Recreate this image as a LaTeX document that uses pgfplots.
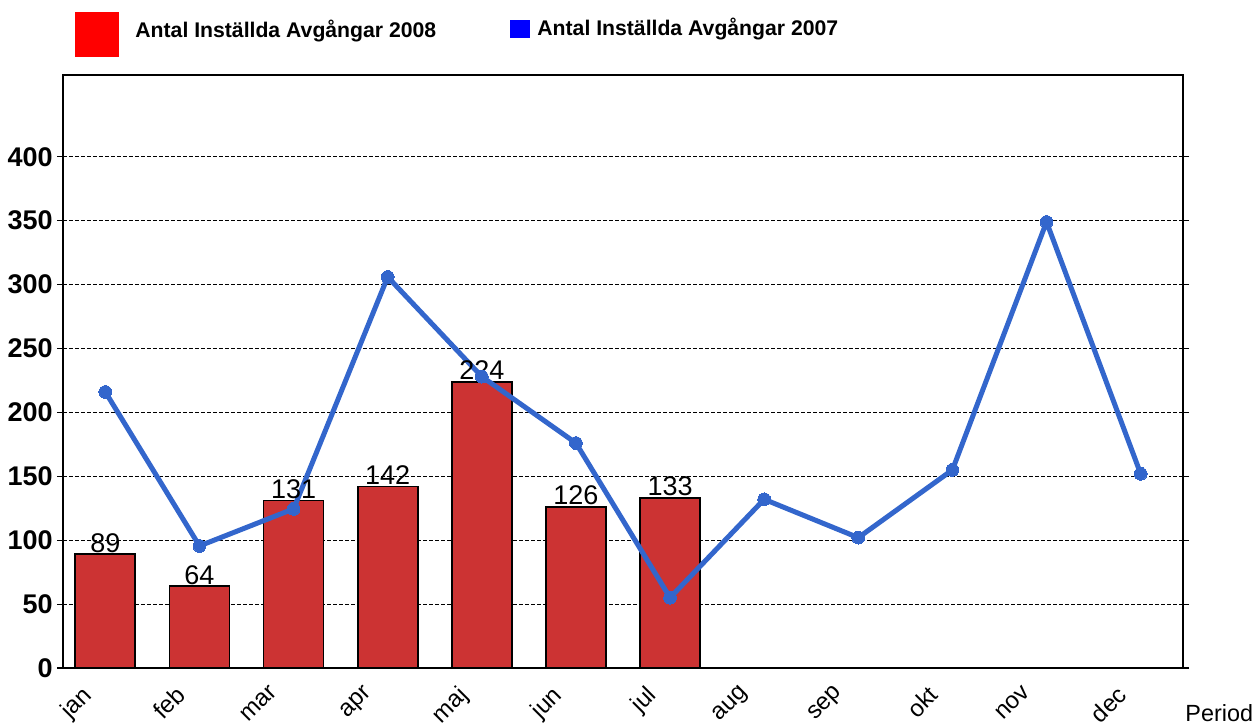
\documentclass[border=0pt]{standalone}
\usepackage{pgfplots}
\pgfplotsset{compat=1.18}
\usepackage{fontspec}
\setmainfont{Liberation Sans}
\definecolor{barred}{HTML}{CC3333}
\definecolor{lineblue}{HTML}{3366CC}
\begin{document}
\begin{tikzpicture}
\useasboundingbox (-31.5pt,-28.5pt) rectangle (596pt,334pt);
\begin{axis}[
  at={(0pt,0pt)}, anchor=south west,
  scale only axis,
  width=560pt, height=296.5pt,
  xmin=-0.45, xmax=11.45,
  ymin=0, ymax=464,
  ytick={0,50,...,400},
  xtick={0,...,11},
  xticklabels={jan,feb,mar,apr,maj,jun,jul,aug,sep,okt,nov,dec},
  x tick label style={xshift=-12.5pt, yshift=-3.5pt, rotate=45, anchor=north east, font=\fontsize{12}{13}\selectfont, inner sep=1pt},
  y tick label style={font=\fontsize{13.5}{15}\selectfont\bfseries, inner sep=2pt},
  /pgf/number format/assume math mode=true,
  ymajorgrids,
  major grid style={black, dash pattern=on 2pt off 1pt, line width=0.5pt},
  major x tick style={draw=none},
  ytick style={black, line width=0.6pt},
  tick align=outside,
  major tick length=3pt,
  axis line style={black, line width=0.9pt},
  clip=false,
]
\addplot[ybar, bar width=30pt, fill=barred, draw=black, line width=0.9pt,
  nodes near coords,
  nodes near coords style={font=\fontsize{13.5}{15}\selectfont, anchor=south, inner sep=0.5pt, black}]
  coordinates {(0,89) (1,64) (2,131) (3,142) (4,224) (5,126) (6,133)};
\addplot[lineblue, line width=2.5pt, mark=*, mark size=3.2pt, mark options={fill=lineblue, draw=lineblue, line width=0pt}]
  coordinates {(0,216) (1,95.5) (2,124.5) (3,306) (4,228) (5,176) (6,55) (7,132) (8,102) (9,155) (10,349) (11,152)};
\end{axis}
% legend
\fill[red] (6pt,305.5pt) rectangle (28pt,328pt);
\node[anchor=west, inner sep=0pt, font=\fontsize{10.6}{12}\selectfont\bfseries] at (36pt,318.5pt) {Antal Inställda Avgångar 2008};
\fill[blue] (223.5pt,315pt) rectangle (233.5pt,324pt);
\node[anchor=west, inner sep=0pt, font=\fontsize{10.6}{12}\selectfont\bfseries] at (237pt,319.5pt) {Antal Inställda Avgångar 2007};
\node[anchor=west, inner sep=0pt, font=\fontsize{11.7}{13}\selectfont] at (561pt,-22.5pt) {Period};
\end{tikzpicture}
\end{document}
